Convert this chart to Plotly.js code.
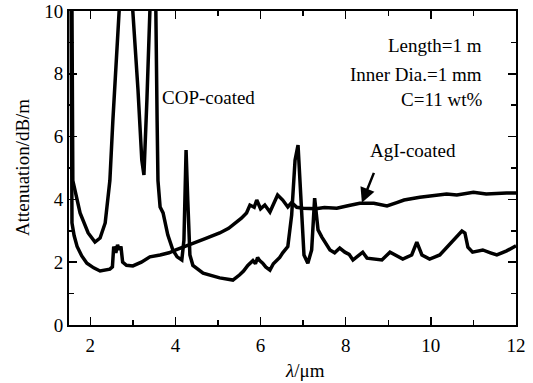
<!DOCTYPE html>
<html>
<head>
<meta charset="utf-8">
<script src="https://cdn.plot.ly/plotly-3.0.1.min.js"></script>
<style>html,body{margin:0;padding:0;background:#fff;}#chart{width:533px;height:383px;}</style>
</head>
<body>
<div id="chart"></div>
<script>
// COP-coated fiber loss spectrum (values above 10 are off-scale peaks)
const copWavelength = [1.57,1.58,1.59,1.76,1.95,2.11,2.23,2.35,2.46,2.53,2.67,2.72,2.95,3.0,3.12,3.21,3.26,3.33,3.40,3.47,3.54,3.57,3.59,3.64,3.71,3.82,3.94,4.04,4.15,4.2,4.25,4.29,4.34,4.41,4.65,5.04,5.35,5.51,5.6,5.7,5.75,5.82,5.88,5.93,5.98,6.05,6.12,6.22,6.3,6.38,6.45,6.52,6.64,6.73,6.81,6.88,6.95,7.02,7.11,7.2,7.27,7.35,7.44,7.55,7.63,7.74,7.86,7.98,8.08,8.17,8.28,8.4,8.5,8.65,8.85,9.04,9.2,9.34,9.55,9.67,9.79,9.97,10.21,10.44,10.61,10.73,10.8,10.87,10.98,11.22,11.4,11.55,11.78,12.0];
const copLoss = [10.0,8.4,4.6,3.57,2.93,2.64,2.77,3.25,4.6,6.5,10.0,11,11,10.0,7.5,5.25,4.78,7.17,10.0,11,10.0,6.5,4.6,3.76,3.57,2.87,2.39,2.17,2.07,2.7,5.57,3.98,2.23,1.9,1.65,1.5,1.43,1.6,1.72,1.9,1.97,2.05,1.95,2.15,2.05,1.97,1.85,1.75,1.95,2.07,2.15,2.3,2.5,3.5,5.25,5.73,3.98,2.23,1.97,2.39,4.04,3.03,2.8,2.55,2.39,2.3,2.45,2.32,2.25,2.07,2.2,2.32,2.13,2.1,2.07,2.32,2.2,2.1,2.23,2.64,2.23,2.1,2.23,2.55,2.8,2.99,2.93,2.48,2.32,2.39,2.3,2.23,2.36,2.52];

// AgI-coated fiber loss spectrum
const agiWavelength = [1.55,1.55,1.56,1.57,1.62,1.69,1.8,1.92,2.08,2.23,2.46,2.52,2.55,2.6,2.64,2.68,2.72,2.76,2.85,3.0,3.2,3.4,3.64,3.85,4.01,4.2,4.41,4.7,5.04,5.25,5.44,5.55,5.67,5.75,5.85,5.91,6.0,6.1,6.22,6.32,6.4,6.52,6.64,6.73,6.85,7.0,7.3,7.5,7.79,8.05,8.33,8.66,8.97,9.2,9.37,9.74,10.05,10.37,10.61,11.0,11.3,11.55,11.78,12.0];
const agiLoss = [10.0,6.5,4.0,3.25,2.85,2.5,2.2,1.97,1.82,1.72,1.78,1.85,2.5,2.3,2.55,2.4,2.5,2.0,1.9,1.88,2.0,2.17,2.23,2.3,2.39,2.5,2.6,2.75,2.93,3.08,3.28,3.4,3.57,3.82,3.75,3.98,3.7,3.82,3.6,3.9,4.14,3.98,3.76,3.9,3.75,3.72,3.7,3.74,3.72,3.8,3.88,3.88,3.79,3.9,3.98,4.07,4.12,4.17,4.14,4.23,4.17,4.2,4.2,4.2];

const xTickVals = [2,4,6,8,10,12];
const yTickVals = [0,2,4,6,8,10];

const serif = 'Liberation Serif';
const traces = [
  {x: copWavelength, y: copLoss, type: 'scatter', mode: 'lines', name: 'COP-coated',
   line: {color: '#000', width: 3.5}, cliponaxis: true},
  {x: agiWavelength, y: agiLoss, type: 'scatter', mode: 'lines', name: 'AgI-coated',
   line: {color: '#000', width: 3.5}, cliponaxis: true}
];

const axisCommon = {
  showgrid: false, zeroline: false, showline: true, linecolor: '#000', linewidth: 2,
  mirror: 'ticks', ticks: 'inside', ticklen: 8, tickwidth: 1.5, tickcolor: '#000',
  tickfont: {family: serif, size: 19, color: '#000'}
};

const layout = {
  width: 533, height: 383,
  margin: {l: 69, r: 17, t: 11, b: 58},
  paper_bgcolor: '#fff', plot_bgcolor: '#fff',
  showlegend: false,
  font: {family: serif, size: 19, color: '#000'},
  xaxis: Object.assign({}, axisCommon, {
    range: [1.5, 12], tickvals: xTickVals, ticktext: xTickVals.map(String),
    ticklabelstandoff: 2,
    minor: {dtick: 1, tick0: 1, ticks: 'inside', ticklen: 5, tickcolor: '#000', tickwidth: 1.5}
  }),
  yaxis: Object.assign({}, axisCommon, {
    range: [0, 10], tickvals: yTickVals, ticktext: yTickVals.map(String),
    minor: {dtick: 1, tick0: 1, ticks: 'inside', ticklen: 5, tickcolor: '#000', tickwidth: 1.5}
  }),
  annotations: [
    {text: '<i>λ</i>/μm', xref: 'paper', yref: 'paper', x: 0.528, y: -0.146,
     xanchor: 'center', yanchor: 'middle', showarrow: false, font: {family: serif, size: 19}},
    {text: 'Attenuation/dB/m', xref: 'paper', yref: 'paper', x: -0.105, y: 0.5,
     xanchor: 'center', yanchor: 'middle', textangle: -90, showarrow: false, font: {family: serif, size: 19}},
    {text: 'COP-coated', x: 3.64, y: 7.23, xanchor: 'left', yanchor: 'middle', showarrow: false, font: {family: serif, size: 19}},
    {text: 'Length=1 m', x: 11.24, y: 8.89, xanchor: 'right', yanchor: 'middle', showarrow: false, font: {family: serif, size: 19}},
    {text: 'Inner Dia.=1 mm', x: 11.24, y: 7.99, xanchor: 'right', yanchor: 'middle', showarrow: false, font: {family: serif, size: 19}},
    {text: 'C=11 wt%', x: 11.24, y: 7.17, xanchor: 'right', yanchor: 'middle', showarrow: false, font: {family: serif, size: 19}},
    {text: 'AgI-coated', x: 9.58, y: 5.57, xanchor: 'center', yanchor: 'middle', showarrow: false, font: {family: serif, size: 19}},
    {text: ' ', x: 8.38, y: 3.89, showarrow: true, arrowhead: 2, arrowsize: 1.2, arrowwidth: 2.5,
     arrowcolor: '#000', ax: 16, ay: -40, standoff: 0}
  ]
};

Plotly.newPlot('chart', traces, layout, {staticPlot: true, displayModeBar: false});
</script>
</body>
</html>
